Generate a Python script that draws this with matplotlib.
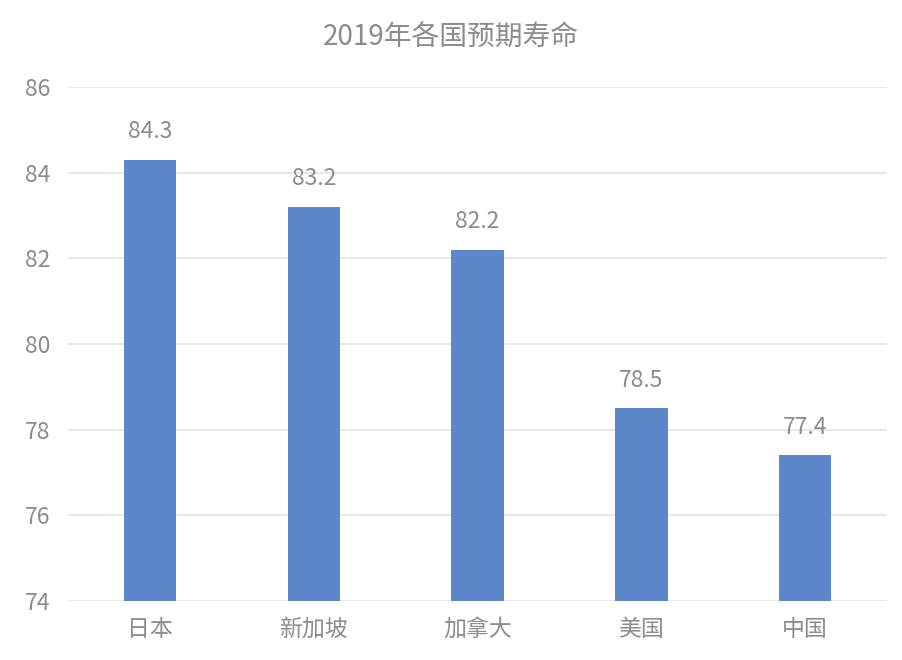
import matplotlib
matplotlib.use('Agg')
import matplotlib.pyplot as plt

# 字体：中文用 Noto Sans CJK SC，缺字时回落 DejaVu Sans
plt.rcParams['font.family'] = ['Noto Sans CJK SC', 'DejaVu Sans']

# 数据
countries = ['日本', '新加坡', '加拿大', '美国', '中国']
life_exp = [84.3, 83.2, 82.2, 78.5, 77.4]
yticks = [74, 76, 78, 80, 82, 84, 86]

grey = '#8c8c8c'
bar_color = '#5d87cb'

fig = plt.figure(figsize=(9.02, 6.6), dpi=100)
ax = fig.add_axes([0.0754, 0.0894, 0.908, 0.7788])

x = range(len(countries))
bars = ax.bar(x, life_exp, width=0.32, color=bar_color, zorder=3)

# 数值标签
for b, v in zip(bars, life_exp):
    ax.annotate(f'{v:.1f}', (b.get_x() + b.get_width() / 2, v),
                xytext=(0, 12), textcoords='offset points',
                ha='center', va='bottom', fontsize=16.5, color=grey,
                fontweight='light')

ax.set_ylim(74, 86)
ax.set_xlim(-0.5, len(countries) - 0.5)
ax.set_yticks(yticks)
ax.set_xticks(list(x))
ax.set_xticklabels(countries)

ax.grid(axis='y', color='#e8e8e8', linewidth=1.5, zorder=0)
for s in ax.spines.values():
    s.set_visible(False)
ax.tick_params(axis='both', length=0, labelsize=16.5, labelcolor=grey)
ax.tick_params(axis='y', pad=13)
ax.tick_params(axis='x', pad=12)
for lab in ax.get_xticklabels() + ax.get_yticklabels():
    lab.set_fontweight('light')

fig.text(0.5, 0.942, '2019年各国预期寿命', ha='center', va='center',
         fontsize=20, color=grey, fontweight='light')

plt.savefig('out.png', dpi=100)
